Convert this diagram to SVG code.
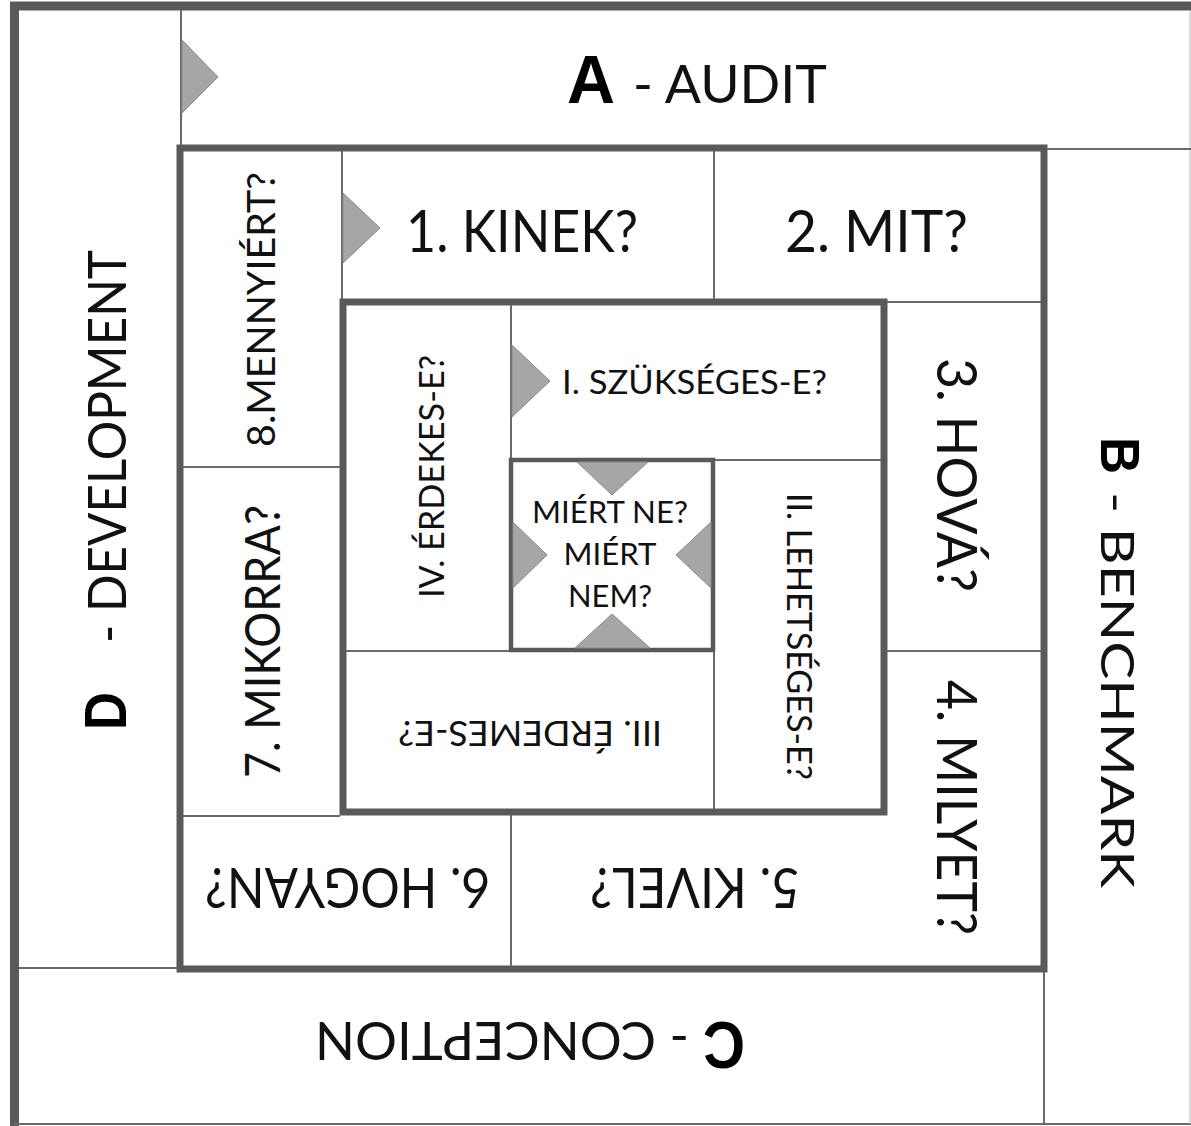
<svg xmlns="http://www.w3.org/2000/svg" width="1191" height="1126" viewBox="0 0 1191 1126">
<style>
.thick{fill:none;stroke:#595959;stroke-width:7}
.outer{fill:none;stroke:#595959;stroke-width:9}
.thin{fill:none;stroke:#6a6a6a;stroke-width:2}
.tri{fill:#a6a6a6;stroke:#8c8c8c;stroke-width:1}
.t{font-family:Lato,"Liberation Sans",sans-serif;fill:#111;text-anchor:start}
.c{font-family:Lato,"Liberation Sans",sans-serif;fill:#111;text-anchor:middle}
.b{font-family:"Liberation Sans",Arial,sans-serif;font-weight:bold;fill:#000}
</style>
<rect x="0" y="0" width="1191" height="1126" fill="#fff"/>
<g id="frame">
<line class="outer" x1="10" y1="6" x2="1191" y2="6"/>
<line class="outer" x1="14.5" y1="2" x2="14.5" y2="1126"/>
<line class="thin" x1="14" y1="1124" x2="1191" y2="1124"/>
<line x1="1190" y1="10" x2="1190" y2="1124" stroke="#bbb" stroke-width="1"/>
<rect class="thick" x="180" y="148" width="864" height="821"/>
<rect class="thick" x="343" y="302" width="541" height="510"/>
<rect x="511" y="460" width="202" height="190" fill="none" stroke="#595959" stroke-width="4.5"/>
</g>
<g id="connectors">
<line class="thin" x1="181" y1="10" x2="181" y2="145"/>
<line class="thin" x1="1047" y1="149" x2="1191" y2="149"/>
<line class="thin" x1="1044" y1="972" x2="1044" y2="1124"/>
<line class="thin" x1="19" y1="968" x2="177" y2="968"/>
<line class="thin" x1="342" y1="151" x2="342" y2="299"/>
<line class="thin" x1="714" y1="151" x2="714" y2="299"/>
<line class="thin" x1="887" y1="302" x2="1041" y2="302"/>
<line class="thin" x1="887" y1="651" x2="1041" y2="651"/>
<line class="thin" x1="511" y1="815" x2="511" y2="966"/>
<line class="thin" x1="183" y1="816" x2="340" y2="816"/>
<line class="thin" x1="183" y1="467" x2="340" y2="467"/>
<line class="thin" x1="511" y1="305" x2="511" y2="458"/>
<line class="thin" x1="715" y1="460" x2="881" y2="460"/>
<line class="thin" x1="714" y1="652" x2="714" y2="809"/>
<line class="thin" x1="346" y1="651" x2="509" y2="651"/>
<polygon class="tri" points="182,40 218,77 182,113"/>
<polygon class="tri" points="343,193 380,228 343,263"/>
<polygon class="tri" points="512,345 550,381 512,417"/>
<polygon class="tri" points="577,462 648,462 612,495"/>
<polygon class="tri" points="575,648 650,648 612,614"/>
<polygon class="tri" points="513,522 547,555 513,588"/>
<polygon class="tri" points="711,522 676,555 711,588"/>
</g>
<g id="node-A">
<text class="b" x="567" y="103" font-size="68" textLength="48" lengthAdjust="spacingAndGlyphs">A</text>
<text class="t" x="633" y="103" font-size="53" textLength="194" lengthAdjust="spacingAndGlyphs">- AUDIT</text>
</g>
<g id="node-B" transform="translate(1101,437) rotate(90)">
<text class="b" x="0" y="0" font-size="56" textLength="37" lengthAdjust="spacingAndGlyphs">B</text>
<text class="t" x="55" y="0" font-size="46" textLength="396" lengthAdjust="spacingAndGlyphs">- BENCHMARK</text>
</g>
<g id="node-C" transform="translate(745,1022) rotate(180)">
<text class="b" x="0" y="0" font-size="66" textLength="42" lengthAdjust="spacingAndGlyphs">C</text>
<text class="t" x="56" y="0" font-size="52" textLength="374" lengthAdjust="spacingAndGlyphs">- CONCEPTION</text>
</g>
<g id="node-D" transform="translate(126,730) rotate(-90)">
<text class="b" x="0" y="0" font-size="59" textLength="38" lengthAdjust="spacingAndGlyphs">D</text>
<text class="t" x="87" y="0" font-size="52" textLength="393" lengthAdjust="spacingAndGlyphs">- DEVELOPMENT</text>
</g>
<g id="node-1">
<text class="t" x="406" y="252" font-size="58" textLength="232" lengthAdjust="spacingAndGlyphs">1. KINEK?</text>
</g>
<g id="node-2">
<text class="t" x="785" y="252" font-size="58" textLength="183" lengthAdjust="spacingAndGlyphs">2. MIT?</text>
</g>
<g id="node-3" transform="translate(937,358) rotate(90)">
<text class="t" x="0" y="0" font-size="57" textLength="234" lengthAdjust="spacingAndGlyphs">3. HOVÁ?</text>
</g>
<g id="node-4" transform="translate(937,680) rotate(90)">
<text class="t" x="0" y="0" font-size="57" textLength="255" lengthAdjust="spacingAndGlyphs">4. MILYET?</text>
</g>
<g id="node-5" transform="translate(800,868) rotate(180)">
<text class="t" x="0" y="0" font-size="57" textLength="210" lengthAdjust="spacingAndGlyphs">5. KIVEL?</text>
</g>
<g id="node-6" transform="translate(490,868) rotate(180)">
<text class="t" x="0" y="0" font-size="57" textLength="285" lengthAdjust="spacingAndGlyphs">6. HOGYAN?</text>
</g>
<g id="node-7" transform="translate(280,778) rotate(-90)">
<text class="t" x="0" y="0" font-size="48" textLength="273" lengthAdjust="spacingAndGlyphs">7. MIKORRA?</text>
</g>
<g id="node-8" transform="translate(275,447) rotate(-90)">
<text class="t" x="0" y="0" font-size="39" textLength="275" lengthAdjust="spacingAndGlyphs">8.MENNYIÉRT?</text>
</g>
<g id="node-I">
<text class="t" x="562" y="394" font-size="33" textLength="265" lengthAdjust="spacingAndGlyphs">I. SZÜKSÉGES-E?</text>
</g>
<g id="node-II" transform="translate(787,493) rotate(90)">
<text class="t" x="0" y="0" font-size="34" textLength="287" lengthAdjust="spacingAndGlyphs">II. LEHETSÉGES-E?</text>
</g>
<g id="node-III" transform="translate(662,721) rotate(180)">
<text class="t" x="0" y="0" font-size="34" textLength="264" lengthAdjust="spacingAndGlyphs">III. ÉRDEMES-E?</text>
</g>
<g id="node-IV" transform="translate(444,598) rotate(-90)">
<text class="t" x="0" y="0" font-size="34" textLength="243" lengthAdjust="spacingAndGlyphs">IV. ÉRDEKES-E?</text>
</g>
<g id="node-center">
<text class="c" x="610" y="523" font-size="31" textLength="156" lengthAdjust="spacingAndGlyphs">MIÉRT NE?</text>
<text class="c" x="610" y="565" font-size="31" textLength="93" lengthAdjust="spacingAndGlyphs">MIÉRT</text>
<text class="c" x="610" y="607" font-size="31" textLength="84" lengthAdjust="spacingAndGlyphs">NEM?</text>
</g>
</svg>
